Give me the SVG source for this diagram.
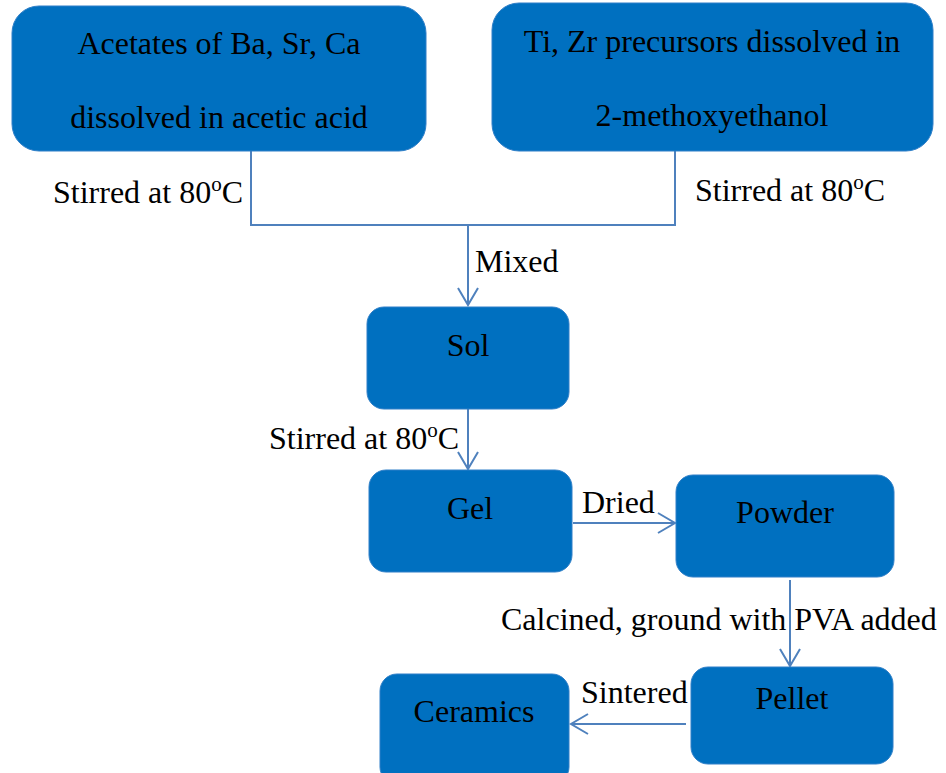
<svg xmlns="http://www.w3.org/2000/svg" width="946" height="773" viewBox="0 0 946 773">
<style>
.box{fill:#0070C0;stroke:#2F7FC8;stroke-width:1}
.t{font-family:"Liberation Serif","Times New Roman",serif;font-size:32px;fill:#000}
.c{text-anchor:middle}
.ln{fill:none;stroke:#4F81BD;stroke-width:2}
</style>
<defs>
<marker id="arr" viewBox="-20 -20 40 40" markerWidth="40" markerHeight="40" refX="0" refY="0" orient="auto" markerUnits="userSpaceOnUse">
<path d="M-17,-10 L0,0 L-17,10" fill="none" stroke="#4F81BD" stroke-width="2"/>
</marker>
</defs>
<rect width="946" height="773" fill="#fff"/>
<g id="connectors">
<polyline class="ln" points="251,151 251,225 675,225 675,151"/>
<line class="ln" x1="468" y1="225" x2="468" y2="305" marker-end="url(#arr)"/>
<line class="ln" x1="468" y1="409" x2="468" y2="469" marker-end="url(#arr)"/>
<line class="ln" x1="573" y1="523" x2="675" y2="523" marker-end="url(#arr)"/>
<line class="ln" x1="790" y1="580" x2="790" y2="666" marker-end="url(#arr)"/>
<line class="ln" x1="686" y1="724" x2="571" y2="724" marker-end="url(#arr)"/>
<text class="t" x="53" y="203">Stirred at 80<tspan font-size="21" dy="-12">o</tspan><tspan dy="12">C</tspan></text>
<text class="t" x="695" y="201">Stirred at 80<tspan font-size="21" dy="-12">o</tspan><tspan dy="12">C</tspan></text>
<text class="t" x="475" y="272">Mixed</text>
<text class="t" x="269" y="449">Stirred at 80<tspan font-size="21" dy="-12">o</tspan><tspan dy="12">C</tspan></text>
<text class="t" x="582" y="513">Dried</text>
<text class="t" x="501" y="630">Calcined, ground with PVA added</text>
<text class="t" x="581" y="703">Sintered</text>
</g>
<g id="acetates">
<rect class="box" x="12" y="6" width="414" height="145" rx="27"/>
<text class="t c" x="219" y="54">Acetates of Ba, Sr, Ca</text>
<text class="t c" x="219" y="128">dissolved in acetic acid</text>
</g>
<g id="precursors">
<rect class="box" x="492" y="3" width="441" height="148" rx="27"/>
<text class="t c" x="712" y="52">Ti, Zr precursors dissolved in</text>
<text class="t c" x="712" y="126">2-methoxyethanol</text>
</g>
<g id="sol">
<rect class="box" x="367" y="307" width="202" height="102" rx="17"/>
<text class="t c" x="468" y="356">Sol</text>
</g>
<g id="gel">
<rect class="box" x="369" y="470" width="203" height="102" rx="17"/>
<text class="t c" x="470" y="519">Gel</text>
</g>
<g id="powder">
<rect class="box" x="676" y="475" width="218" height="102" rx="17"/>
<text class="t c" x="785" y="523">Powder</text>
</g>
<g id="pellet">
<rect class="box" x="691" y="667" width="202" height="97" rx="17"/>
<text class="t c" x="792" y="709">Pellet</text>
</g>
<g id="ceramics">
<rect class="box" x="380" y="674" width="189" height="110" rx="17"/>
<text class="t c" x="474" y="722">Ceramics</text>
</g>
</svg>
